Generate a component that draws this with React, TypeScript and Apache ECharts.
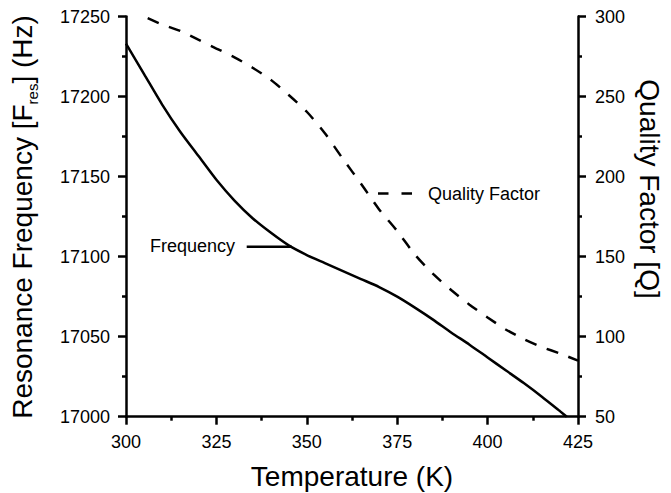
import React, { useEffect, useRef } from "react";
import * as echarts from "echarts";

const freqTemps = [300, 305, 310, 315, 320, 325, 330, 335, 340, 345, 350, 355, 360, 365, 370, 375, 380, 385, 390, 395, 400, 405, 410, 415, 420, 421.9];
const freqValues = [17233, 17214, 17195, 17178, 17163, 17148, 17135, 17124, 17115, 17107, 17101, 17096, 17091, 17086, 17081, 17075, 17068, 17060.5, 17052.5, 17045, 17037, 17029, 17021, 17012.5, 17003.5, 17000];

const qTemps = [306, 310, 315, 320, 325, 330, 335, 340, 345, 350, 355, 360, 365, 370, 375, 380, 385, 390, 395, 400, 405, 410, 415, 420, 425];
const qValues = [299, 295, 291, 285.5, 280, 274.5, 268, 260.5, 251, 240.5, 227, 211, 195.5, 179.5, 166, 151, 139, 129, 120, 112, 104.5, 98.5, 93.5, 89.5, 85];

const xTitle = "Temperature (K)";
const leftTitleParts = ["Resonance Frequency [F", "res", "] (Hz)"];
const rightTitle = "Quality Factor [Q]";
const freqLabel = "Frequency";
const qLabel = "Quality Factor";

const FONT = "'Liberation Sans', Arial, Helvetica, sans-serif";

export default function App() {
  const ref = useRef<HTMLDivElement>(null);
  useEffect(() => {
    if (!ref.current) return;
    const chart = echarts.init(ref.current, undefined, { renderer: "svg" });
    const axisLine = { show: true, lineStyle: { color: "#000", width: 2.5 } };
    const axisTick = { show: true, length: 8, lineStyle: { color: "#000", width: 2.5 } };
    const minorTick = { show: true, splitNumber: 2, length: 4, lineStyle: { color: "#000", width: 2.5 } };
    const axisLabel = {
      color: "#000",
      fontSize: 18,
      fontFamily: FONT,
      margin: 16,
      formatter: (v: number) => String(v),
    };
    chart.setOption({
      animation: false,
      backgroundColor: "#fff",
      grid: { left: 126, right: 93, top: 16.5, bottom: 76.3, containLabel: false },
      xAxis: {
        type: "value",
        min: 300,
        max: 425,
        interval: 25,
        axisLine,
        axisTick,
        minorTick,
        axisLabel,
        splitLine: { show: false },
      },
      yAxis: [
        {
          type: "value",
          position: "left",
          min: 17000,
          max: 17250,
          interval: 50,
          axisLine,
          axisTick,
          minorTick,
          axisLabel,
          splitLine: { show: false },
        },
        {
          type: "value",
          position: "right",
          min: 50,
          max: 300,
          interval: 50,
          axisLine,
          axisTick,
          minorTick,
          axisLabel: { ...axisLabel, margin: 17 },
          splitLine: { show: false },
        },
      ],
      series: [
        {
          name: freqLabel,
          type: "line",
          yAxisIndex: 0,
          symbol: "none",
          smooth: 0.25,
          lineStyle: { color: "#000", width: 2.5 },
          data: freqTemps.map((t, i) => [t, freqValues[i]]),
        },
        {
          name: qLabel,
          type: "line",
          yAxisIndex: 1,
          symbol: "none",
          smooth: 0.25,
          lineStyle: { color: "#000", width: 2.5, type: [12, 11] },
          data: qTemps.map((t, i) => [t, qValues[i]]),
        },
      ],
      graphic: [
        {
          type: "text",
          x: 352,
          y: 476,
          style: {
            text: xTitle,
            fill: "#000",
            font: `28px ${FONT}`,
            align: "center",
            verticalAlign: "middle",
            textAlign: "center",
            textVerticalAlign: "middle",
          },
        },
        {
          type: "text",
          x: 22,
          y: 217,
          rotation: Math.PI / 2,
          style: {
            text: `{a|${leftTitleParts[0]}}{s|${leftTitleParts[1]}}{a|${leftTitleParts[2]}}`,
            rich: {
              a: { fontSize: 28, fontFamily: FONT, fill: "#000", color: "#000", lineHeight: 36, verticalAlign: "middle" },
              s: { fontSize: 15, fontFamily: FONT, fill: "#000", color: "#000", lineHeight: 36, verticalAlign: "bottom" },
            },
            align: "center",
            verticalAlign: "middle",
            textAlign: "center",
            textVerticalAlign: "middle",
          },
        },
        {
          type: "text",
          x: 649,
          y: 189,
          rotation: -Math.PI / 2,
          style: {
            text: rightTitle,
            fill: "#000",
            font: `28px ${FONT}`,
            align: "center",
            verticalAlign: "middle",
            textAlign: "center",
            textVerticalAlign: "middle",
          },
        },
        {
          type: "text",
          x: 235,
          y: 246,
          style: {
            text: freqLabel,
            fill: "#000",
            font: `18px ${FONT}`,
            align: "right",
            verticalAlign: "middle",
            textAlign: "right",
            textVerticalAlign: "middle",
          },
        },
        {
          type: "line",
          shape: { x1: 246.7, y1: 246.7, x2: 291.7, y2: 246.7 },
          style: { stroke: "#000", lineWidth: 2.5 },
        },
        {
          type: "line",
          shape: { x1: 378, y1: 193.5, x2: 413.5, y2: 193.5 },
          style: { stroke: "#000", lineWidth: 2.5, lineDash: [10.5, 13] },
        },
        {
          type: "text",
          x: 428,
          y: 194,
          style: {
            text: qLabel,
            fill: "#000",
            font: `18px ${FONT}`,
            align: "left",
            verticalAlign: "middle",
            textAlign: "left",
            textVerticalAlign: "middle",
          },
        },
      ],
    });
    return () => chart.dispose();
  }, []);
  return (
    <div
      ref={ref}
      style={{ position: "fixed", left: 0, top: 0, width: 671, height: 493, background: "#fff" }}
    />
  );
}
